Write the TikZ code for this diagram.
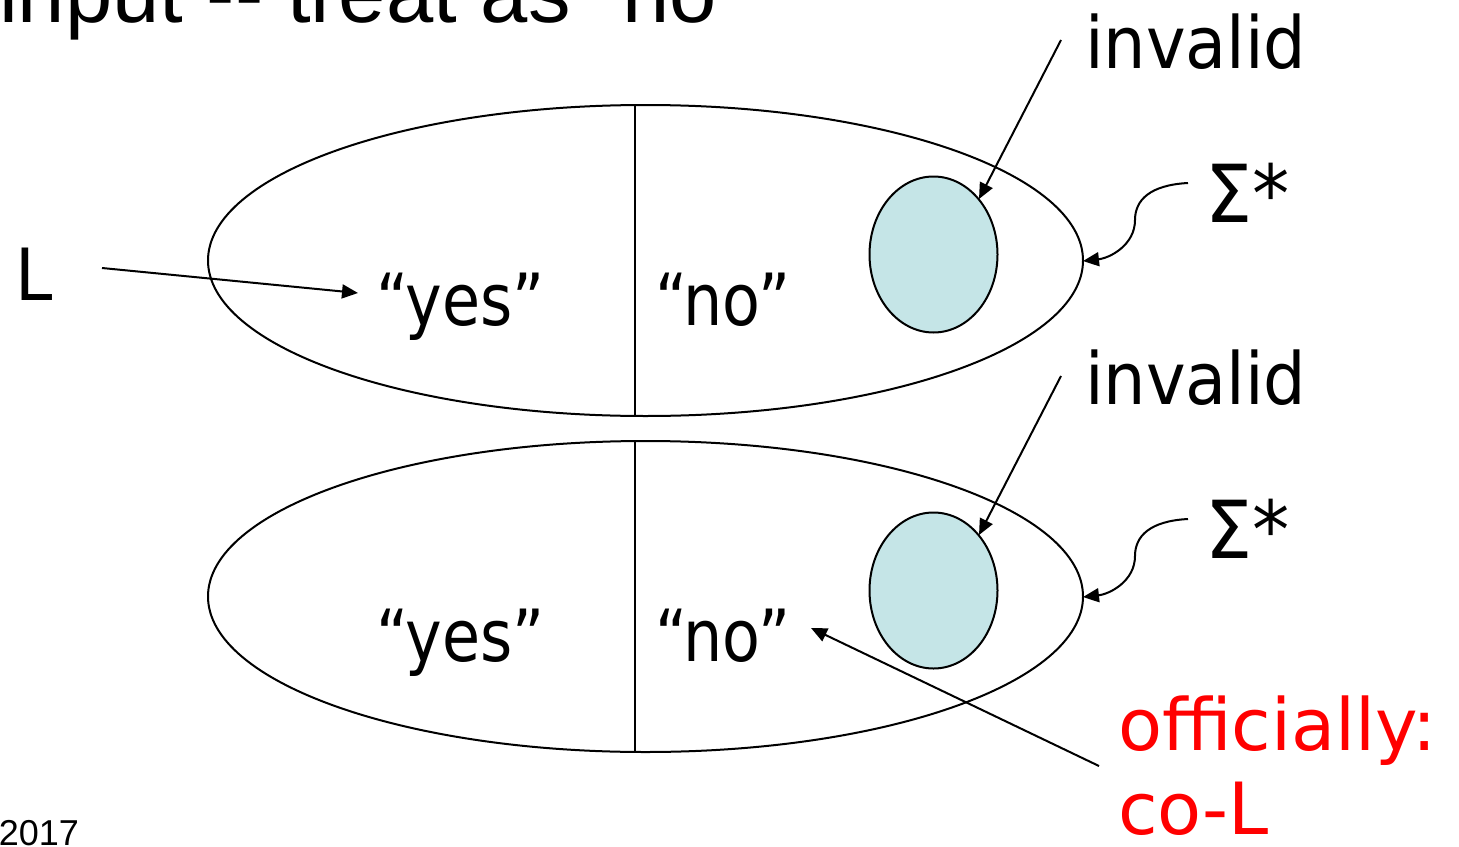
\documentclass[tikz,border=0pt]{standalone}
\usepackage{fontspec}
\usetikzlibrary{arrows.meta,shapes.geometric}
\newfontfamily\comic[FakeStretch=0.93]{DejaVu Sans}
\newfontfamily\comicn[FakeStretch=0.86]{DejaVu Sans}
\newfontfamily\comicw[FakeStretch=1.0]{DejaVu Sans}
\newfontfamily\arial{Liberation Sans}
\definecolor{cellblue}{HTML}{C5E5E7}
\definecolor{offred}{HTML}{FF0000}
\begin{document}
\begin{tikzpicture}[x=1pt,y=-1pt,
  every node/.style={inner sep=0pt, outer sep=0pt},
  lbl/.style={font=\comic\fontsize{72}{80}\selectfont, anchor=base west},
  qlbl/.style={font=\comicn\fontsize{72}{80}\selectfont, anchor=base west},
  sig/.style={font=\comic\fontsize{80}{88}\selectfont, anchor=base west},
  redlbl/.style={font=\comicw\fontsize{72}{80}\selectfont, anchor=base west, text=offred},
  toptxt/.style={font=\arial\fontsize{85}{90}\selectfont, anchor=base west},
  bigell/.style={draw, line width=2pt, ellipse, minimum width=875pt, minimum height=311pt},
  cell/.style={draw, line width=2pt, ellipse, fill=cellblue, minimum width=128pt, minimum height=156pt},
  divider/.style={line width=2pt},
  conn/.style={line width=2pt, -{Triangle[length=16pt,width=14pt]}}
]
\useasboundingbox (0,0) rectangle (1459,846);

% top partial heading and footer
\node[toptxt] (head) at (-1,22) {input {-}{-} treat as “no”};
\node[font=\arial\fontsize{36}{40}\selectfont, anchor=base east] (year) at (79,845) {2017};

% ---- upper diagram ----
\node[bigell] (E1) at (645.5,260.5) {};
\coordinate (d1t) at (635,105);
\coordinate (d1b) at (635,416);
\draw[divider] (d1t) -- (d1b);
\node[cell] (C1) at (933.5,254.5) {};
\node[qlbl] (yes1) at (376,325) {“yes”};
\node[qlbl] (no1) at (655,325) {“no”};
\node[lbl] (L) at (16,300) {L};
\node[lbl] (inv1) at (1085,68) {invalid};
\node[sig] (sig1) at (1205,222) {Σ*};

\coordinate (Lstart) at (102,268);
\coordinate (Lend) at (358,293);
\draw[conn] (Lstart) -- (Lend);
\coordinate (inv1s) at (1061,40);
\coordinate (inv1e) at (979,199);
\draw[conn] (inv1s) -- (inv1e);
\coordinate (sig1s) at (1188,183);
\coordinate (sig1e) at (1083,261);
\draw[conn] (sig1s) .. controls (1150,185) and (1135,200) .. (1135,220)
                    .. controls (1135,245) and (1110,258) .. (sig1e);

% ---- lower diagram ----
\node[bigell] (E2) at (645.5,596.5) {};
\coordinate (d2t) at (635,441);
\coordinate (d2b) at (635,752);
\draw[divider] (d2t) -- (d2b);
\node[cell] (C2) at (933.5,590.5) {};
\node[qlbl] (yes2) at (376,661) {“yes”};
\node[qlbl] (no2) at (655,661) {“no”};
\node[lbl] (inv2) at (1085,404) {invalid};
\node[sig] (sig2) at (1205,558) {Σ*};

\coordinate (inv2s) at (1061,376);
\coordinate (inv2e) at (979,535);
\draw[conn] (inv2s) -- (inv2e);
\coordinate (sig2s) at (1188,519);
\coordinate (sig2e) at (1083,597);
\draw[conn] (sig2s) .. controls (1150,521) and (1135,536) .. (1135,556)
                    .. controls (1135,581) and (1110,594) .. (sig2e);

\node[redlbl] (off) at (1118,750) {officially:};
\node[redlbl] (coL) at (1118,834) {co-L};
\coordinate (offs) at (1099,766);
\coordinate (offe) at (811,628);
\draw[conn] (offs) -- (offe);
\end{tikzpicture}
\end{document}
